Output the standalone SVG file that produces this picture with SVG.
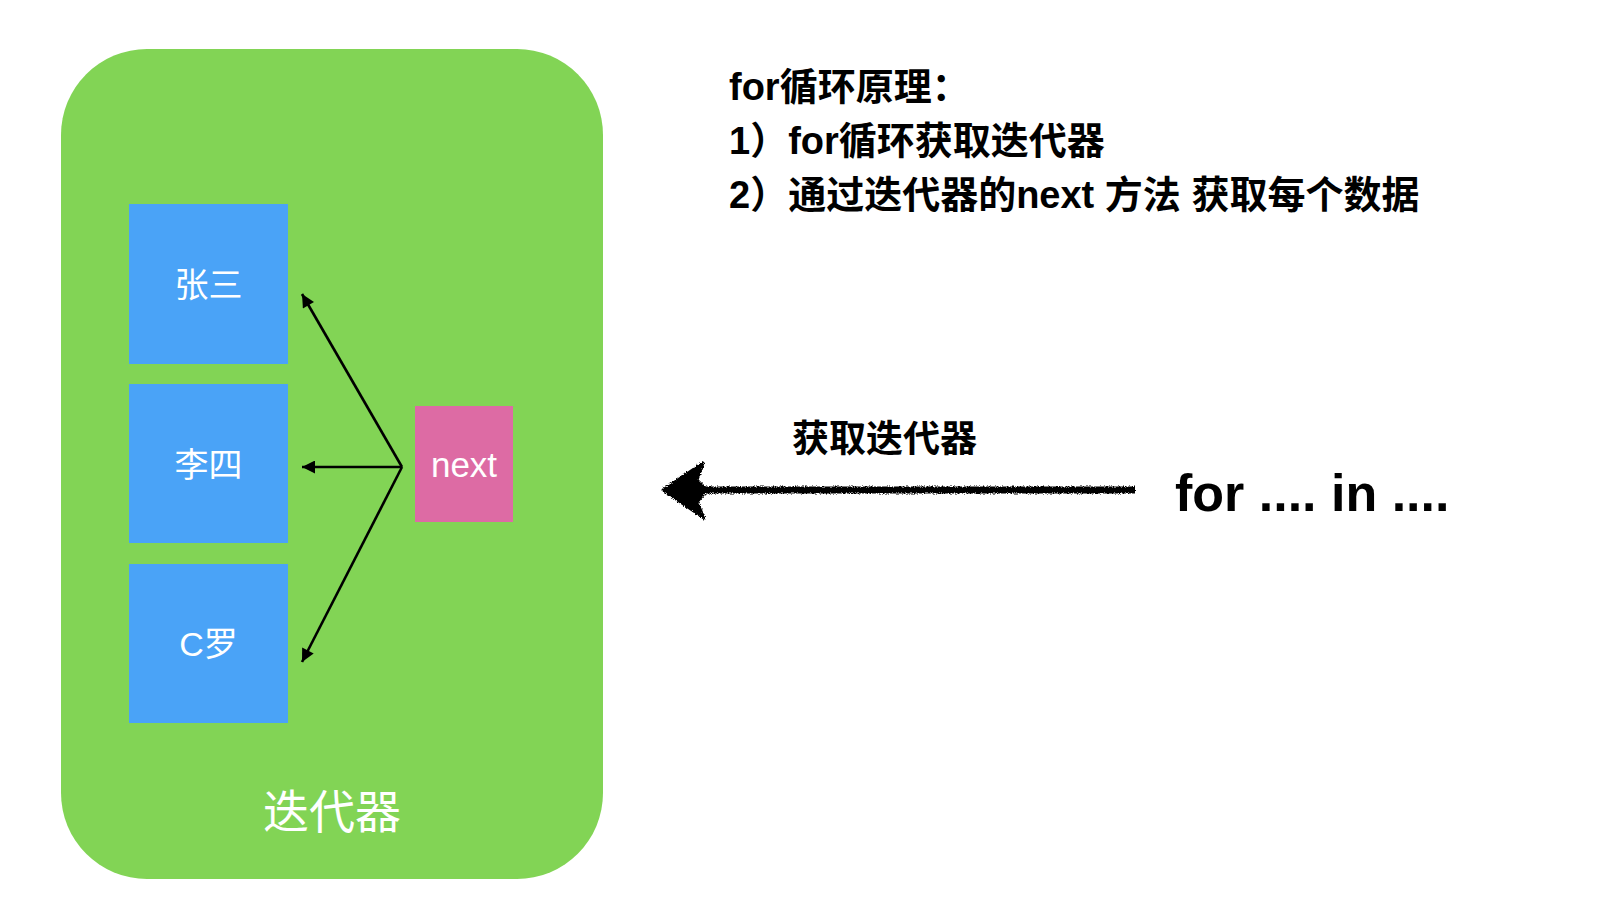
<svg xmlns="http://www.w3.org/2000/svg" width="1600" height="920" viewBox="0 0 1600 920">
<defs>
<style>
.box{fill:#4AA3F7}
.lbl{fill:#fff;font-family:"Liberation Sans","Noto Sans CJK SC",sans-serif;text-anchor:middle}
.note{fill:#000;font-family:"Liberation Sans","Noto Sans CJK SC",sans-serif;font-weight:bold}
.conn{stroke:#000;stroke-width:2.6;fill:none}
</style>
<marker id="ah" viewBox="0 0 10 10" refX="10" refY="5" markerWidth="5.5" markerHeight="5" orient="auto" markerUnits="strokeWidth">
<path d="M0,0 L10,5 L0,10 z" fill="#000"/>
</marker>
<filter id="rough" x="-5%" y="-50%" width="110%" height="200%">
<feTurbulence type="fractalNoise" baseFrequency="0.9" numOctaves="2" seed="3" result="n"/>
<feDisplacementMap in="SourceGraphic" in2="n" scale="4" xChannelSelector="R" yChannelSelector="G"/>
</filter>
</defs>
<rect width="1600" height="920" fill="#fff"/>
<g id="iterator">
<rect x="61" y="49" width="542" height="830" rx="86" ry="86" fill="#82D455"/>
<text class="lbl" x="332" y="828" font-size="46">迭代器</text>
</g>
<g id="zhangsan">
<rect class="box" x="129" y="204" width="159" height="160"/>
<text class="lbl" x="208.5" y="297" font-size="34">张三</text>
</g>
<g id="lisi">
<rect class="box" x="129" y="384" width="159" height="159"/>
<text class="lbl" x="208.5" y="477" font-size="34">李四</text>
</g>
<g id="cluo">
<rect class="box" x="129" y="564" width="159" height="159"/>
<text class="lbl" x="208.5" y="656" font-size="34">C罗</text>
</g>
<g id="next">
<rect x="415" y="406" width="98" height="116" fill="#DD6BA4"/>
<text class="lbl" x="464" y="477" font-size="35">next</text>
</g>
<g id="connectors">
<line class="conn" x1="402" y1="467" x2="302" y2="294" marker-end="url(#ah)"/>
<line class="conn" x1="402" y1="467" x2="302" y2="467" marker-end="url(#ah)"/>
<line class="conn" x1="402" y1="467" x2="302" y2="662" marker-end="url(#ah)"/>
<g id="rough-arrow" filter="url(#rough)">
<line x1="1135" y1="490" x2="695" y2="490" stroke="#000" stroke-width="7"/>
<path d="M663,490 L703,463 L697,480 L707,490 L697,502 L704,518 Z" fill="#000" stroke="#000" stroke-width="3" stroke-linejoin="round"/>
</g>
</g>
<g id="notes">
<text class="note" x="729" y="100" font-size="38">for循环原理：</text>
<text class="note" x="729" y="154" font-size="38">1）for循环获取迭代器</text>
<text class="note" x="729" y="208" font-size="38">2）通过迭代器的next 方法 获取每个数据</text>
<text class="note" x="792" y="452" font-size="37">获取迭代器</text>
<text class="note" x="1175" y="511" font-size="52">for .... in ....</text>
</g>
</svg>
